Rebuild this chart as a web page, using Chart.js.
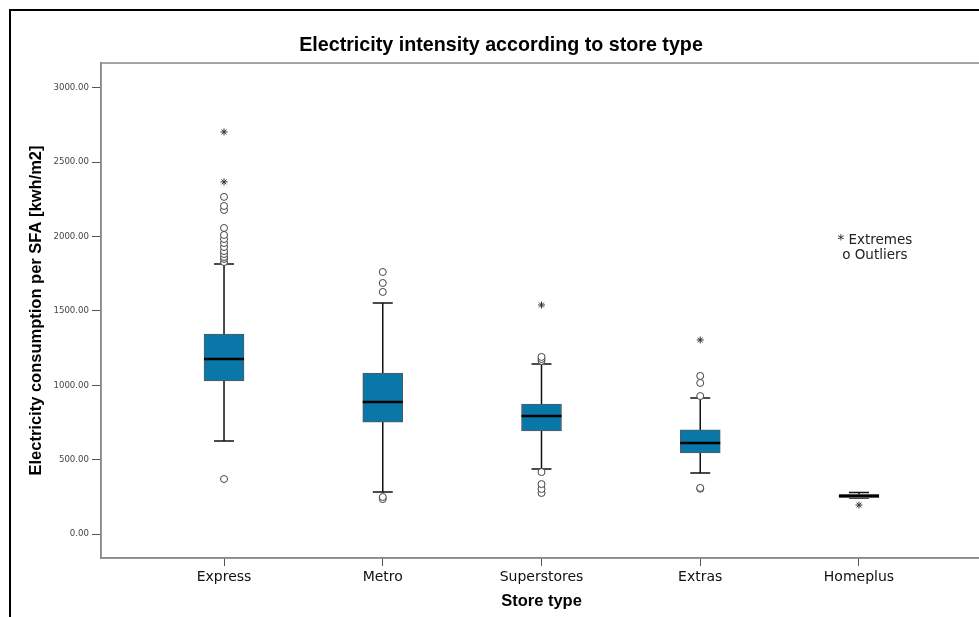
<!DOCTYPE html>
<html>
<head>
<meta charset="utf-8">
<title>Electricity intensity according to store type</title>
<script src="https://cdn.jsdelivr.net/npm/chart.js@4.4.1/dist/chart.umd.min.js"></script>
<style>
	body {margin:0; background:#fff; overflow:hidden;}
	#marco {position:absolute; left:9px; top:9px; border-left:2px solid #000; border-top:2px solid #000; width:1000px; height:700px;}
	#cvGrafico {display:block;}
</style>
</head>
<body onload="Inicio()">
<div id="marco"><canvas id="cvGrafico" width="980" height="606"></canvas></div>
<script>
//	Diagrama de cajas: consumo electrico por SFA segun tipo de tienda

//	Datos
var categorias=['Express','Metro','Superstores','Extras','Homeplus'];
var bigoteInf=[626, 283, 437, 410, 242];
var cuartil1=[1029, 753, 693, 545, 245];
var mediana=[1177, 888, 794, 612, 257];
var cuartil3=[1345, 1083, 874, 700, 266];
var bigoteSup=[1816, 1554, 1143, 915, 280];

//	valores atipicos (o) y extremos (*) por tipo de tienda
var atipicos=[
	[370, 1829, 1850, 1863, 1883, 1903, 1930, 1957, 1984, 2011, 2058, 2179, 2206, 2267],
	[235, 249, 1628, 1688, 1762],
	[276, 303, 336, 417, 1164, 1177, 1191],
	[305, 310, 928, 1016, 1063],
	[]
];
var extremos=[
	[2368, 2704],
	[],
	[1540],
	[1305],
	[195]
];

//	marcas del eje Y
var ticksY=[0, 500, 1000, 1500, 2000, 2500, 3000];

var textosLeyenda=['* Extremes', 'o Outliers'];

var myChart;

//	funcion a ejecutar al cargarse la pagina
function Inicio()
{
	PresentaGrafico();
}


//	Pasa una lista por categoria a puntos {x,y}
function PuntosDe(lista)
{
	var puntos=[];
	for (var i=0;i<lista.length;++i)
		for (var j=0;j<lista[i].length;++j)
			puntos.push({x:i+1, y:lista[i][j]});
	return puntos;
}


//	Plugin para dibujar marco, bigotes, medianas y leyenda
var pluginCajas={
	id:'cajas',
	beforeDraw:function(chart)
	{
		var a=chart.chartArea, ctx=chart.ctx;
		ctx.save();
		ctx.strokeStyle='#8a8a8a';
		ctx.lineWidth=1.5;
		ctx.strokeRect(a.left, a.top, a.right-a.left, a.bottom-a.top);
		ctx.restore();
	},
	beforeDatasetsDraw:function(chart)
	{
		var ctx=chart.ctx, sx=chart.scales.x, sy=chart.scales.y;
		ctx.save();
		ctx.strokeStyle='#111';
		ctx.lineWidth=1.5;
		for (var i=0;i<categorias.length;++i)
		{
			var x=sx.getPixelForValue(i+1);
			var ySup=sy.getPixelForValue(bigoteSup[i]), yInf=sy.getPixelForValue(bigoteInf[i]);
			ctx.beginPath();
			ctx.moveTo(x, sy.getPixelForValue(cuartil3[i]));
			ctx.lineTo(x, ySup);
			ctx.moveTo(x, sy.getPixelForValue(cuartil1[i]));
			ctx.lineTo(x, yInf);
			ctx.moveTo(x-10, ySup);
			ctx.lineTo(x+10, ySup);
			ctx.moveTo(x-10, yInf);
			ctx.lineTo(x+10, yInf);
			ctx.stroke();
		}
		ctx.restore();
	},
	afterDatasetDraw:function(chart, args)
	{
		if (args.index!==0) return;
		var ctx=chart.ctx, sx=chart.scales.x, sy=chart.scales.y;
		ctx.save();
		ctx.strokeStyle='#000';
		ctx.lineWidth=2.5;
		for (var i=0;i<categorias.length;++i)
		{
			var x=sx.getPixelForValue(i+1), y=sy.getPixelForValue(mediana[i]);
			ctx.beginPath();
			ctx.moveTo(x-20, y);
			ctx.lineTo(x+20, y);
			ctx.stroke();
		}
		ctx.restore();
	},
	afterDraw:function(chart)
	{
		var ctx=chart.ctx, sx=chart.scales.x, sy=chart.scales.y;
		ctx.save();
		ctx.fillStyle='#222';
		ctx.font='13.5px "DejaVu Sans"';
		ctx.textAlign='center';
		ctx.textBaseline='middle';
		ctx.fillText(textosLeyenda[0], sx.getPixelForValue(5.1), sy.getPixelForValue(1975));
		ctx.fillText(textosLeyenda[1], sx.getPixelForValue(5.1), sy.getPixelForValue(1875));
		ctx.restore();
	}
};


//	Prepara el grafico
function PresentaGrafico()
{
	var Cajas=[];
	for (var i=0;i<categorias.length;++i)
		Cajas.push({x:i+1, y:[cuartil1[i], cuartil3[i]]});

	var ctx=document.getElementById('cvGrafico').getContext('2d');

	if (myChart)
		myChart.destroy();

	myChart=new Chart(ctx, {
		type:'bar',
		data:{
			datasets:[
			{
				label:'Cajas',
				data:Cajas,
				backgroundColor:'#0a77a9',
				borderColor:'#5a5a5a',
				borderWidth:1,
				borderSkipped:false,
				barThickness:40,
				order:2
			},
			{
				type:'scatter',
				label:'Outliers',
				data:PuntosDe(atipicos),
				pointStyle:'circle',
				pointRadius:3.5,
				backgroundColor:'#fff',
				borderColor:'#444',
				borderWidth:1,
				order:1
			},
			{
				type:'scatter',
				label:'Extremes',
				data:PuntosDe(extremos),
				pointStyle:'star',
				pointRadius:3.5,
				borderColor:'#333',
				borderWidth:1,
				order:0
			}]
		},
		options:{
			responsive:false,
			animation:false,
			layout:{padding:{left:9, right:9, top:0, bottom:0}},
			plugins:{
				legend:{display:false},
				tooltip:{enabled:false},
				title:{
					display:true,
					text:'Electricity intensity according to store type',
					color:'#000',
					font:{family:'"Liberation Sans", Arial', size:19.7, weight:'bold'},
					padding:{top:22.7, bottom:5.7}
				}
			},
			scales:{
				x:{
					type:'linear',
					min:0.225,
					max:5.775,
					offset:false,
					afterFit:function(s){ s.height=59; },
					afterBuildTicks:function(s){ s.ticks=categorias.map(function(c, i){ return {value:i+1}; }); },
					grid:{display:true, offset:false, drawOnChartArea:false, drawTicks:true, tickLength:8, color:'#555'},
					border:{display:true, color:'#8a8a8a', width:1.5},
					ticks:{
						autoSkip:false,
						maxRotation:0,
						padding:3,
						color:'#111',
						font:{family:'"DejaVu Sans"', size:14},
						callback:function(v){ return categorias[v-1]||''; }
					},
					title:{
						display:true,
						text:'Store type',
						color:'#000',
						font:{family:'"Liberation Sans", Arial', size:16.5, weight:'bold'},
						padding:{top:0, bottom:6}
					}
				},
				y:{
					min:-161,
					max:3167,
					afterFit:function(s){ s.width=81; },
					afterBuildTicks:function(s){ s.ticks=ticksY.map(function(v){ return {value:v}; }); },
					grid:{display:true, drawOnChartArea:false, drawTicks:true, tickLength:9, color:'#555'},
					border:{display:true, color:'#8a8a8a', width:1.5},
					ticks:{
						padding:3,
						color:'#444',
						font:{family:'"DejaVu Sans"', size:8.6},
						callback:function(v){ return v.toFixed(2); }
					},
					title:{
						display:true,
						text:'Electricity consumption per SFA [kwh/m2]',
						color:'#000',
						font:{family:'"Liberation Sans", Arial', size:16.5, weight:'bold'},
						padding:{top:7, bottom:0}
					}
				}
			}
		},
		plugins:[pluginCajas]
	});
}
</script>
</body>
</html>
